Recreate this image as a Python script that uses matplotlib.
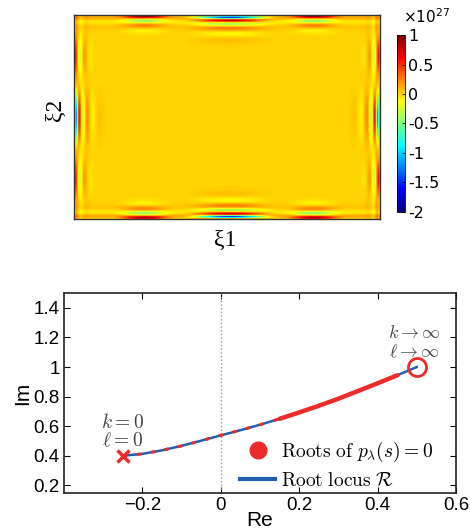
import matplotlib
matplotlib.use('Agg')
import matplotlib.pyplot as plt
from matplotlib.colors import ListedColormap
from matplotlib.lines import Line2D
import numpy as np

plt.rcParams['mathtext.fontset'] = 'cm'

# ---------------------------------------------------------------------------
# Top panel: field near the boundary (values in units of 1e27)
# ---------------------------------------------------------------------------
NX, NY = 306, 204          # image cells (roughly one per pixel)
CB_MIN, CB_MAX = -2, 1
CB_TICKS = [1, 0.5, 0, -0.5, -1, -1.5, -2]

# radial ring profile (distance from edge in cells) for the strong centre lobes
center_ring_d = [0.5, 2.4, 5.4, 8.8, 13.0, 18.5, 25.0]
center_ring_amp = [0.45, -1.8, 0.9, -0.5, 0.28, -0.14, 0.07]
center_ring_w = [0.9, 1.1, 1.6, 1.9, 2.3, 2.7, 3.2]
# radial ring profile for the weaker side lobes
side_ring_d = [1.4, 5.8, 10.0, 15.0]
side_ring_amp = [0.85, -0.45, 0.28, -0.12]
side_ring_w = [1.2, 1.8, 2.3, 2.8]
# faint ripple running along the whole edge
base_ring_d = [3.0, 7.0, 12.0]
base_ring_amp = [0.14, -0.07, 0.04]
base_ring_w = [1.3, 1.8, 2.4]

# lobes along the top / bottom edges (fraction of width)
tb_lobe_pos = [0.23, 0.51, 0.785]
tb_lobe_half = [0.11, 0.17, 0.11]
tb_lobe_amp = [1.0, 1.0, 1.0]
tb_lobe_kind = ['side', 'center', 'side']
# lobes along the left / right edges (fraction of height)
lr_lobe_pos = [0.2, 0.5, 0.8]
lr_lobe_half = [0.13, 0.19, 0.13]
lr_lobe_amp = [0.6, 0.8, 0.6]
lr_lobe_kind = ['side', 'center', 'side']

# ---------------------------------------------------------------------------
# Bottom panel: root locus
# ---------------------------------------------------------------------------
locus_re = [-0.25, -0.2, -0.15, -0.1, -0.05, 0.0, 0.05, 0.1, 0.15, 0.2,
            0.25, 0.3, 0.35, 0.4, 0.45, 0.5]
locus_im = [0.400, 0.413, 0.437, 0.467, 0.502, 0.538, 0.573, 0.610, 0.650,
            0.693, 0.738, 0.786, 0.838, 0.890, 0.944, 1.000]
start_pt = (-0.25, 0.40)
end_pt = (0.5, 1.0)
X_TICKS = [-0.2, 0, 0.2, 0.4, 0.6]
Y_TICKS = [0.2, 0.4, 0.6, 0.8, 1, 1.2, 1.4]

RED = '#ee2b2b'
BLUE = '#1f5fb0'
GREY_TXT = '#444444'


def matlab_jet(n=256):
    x = np.linspace(0, 1, n)
    r = np.clip(1.5 - np.abs(4 * x - 3), 0, 1)
    g = np.clip(1.5 - np.abs(4 * x - 2), 0, 1)
    b = np.clip(1.5 - np.abs(4 * x - 1), 0, 1)
    return ListedColormap(np.column_stack([r, g, b]))


def rings(d, centres, amps, widths):
    out = np.zeros_like(d)
    for c, a, w in zip(centres, amps, widths):
        out += a * np.exp(-0.5 * ((d - c) / w) ** 2)
    return out


def window(s, pos, half):
    t = np.clip((s - pos) / half, -1, 1)
    return np.cos(0.5 * np.pi * t) ** 2


def edge_field(s, d, positions, halves, amps, kinds):
    f = rings(d, base_ring_d, base_ring_amp, base_ring_w)
    for p, h, a, k in zip(positions, halves, amps, kinds):
        if k == 'center':
            r = rings(d, center_ring_d, center_ring_amp, center_ring_w)
        else:
            r = rings(d, side_ring_d, side_ring_amp, side_ring_w)
        f = f + a * window(s, p, h) * r
    return f


def build_field():
    col = np.arange(NX) + 0.5
    row = np.arange(NY) + 0.5
    C, R = np.meshgrid(col, row)
    u = C / NX
    v = R / NY
    z = np.zeros((NY, NX))
    z += edge_field(u, R, tb_lobe_pos, tb_lobe_half, tb_lobe_amp, tb_lobe_kind)
    z += edge_field(u, NY - R, tb_lobe_pos, tb_lobe_half, tb_lobe_amp, tb_lobe_kind)
    z += edge_field(v, C, lr_lobe_pos, lr_lobe_half, lr_lobe_amp, lr_lobe_kind)
    z += edge_field(v, NX - C, lr_lobe_pos, lr_lobe_half, lr_lobe_amp, lr_lobe_kind)
    return z


fig = plt.figure(figsize=(4.70, 5.31), dpi=100)

# --- heat map ---------------------------------------------------------------
ax1 = fig.add_axes([0.157, 0.588, 0.651, 0.384])
im = ax1.imshow(build_field(), cmap=matlab_jet(), vmin=CB_MIN, vmax=CB_MAX,
                aspect='auto', interpolation='bilinear', origin='upper')
ax1.set_xticks([])
ax1.set_yticks([])
for sp in ax1.spines.values():
    sp.set_edgecolor('#333333')
    sp.set_linewidth(1.0)

fig.text(0.117, 0.793, 'ξ2', rotation=90, ha='center', va='center',
         fontsize=17, family='Liberation Serif')
fig.text(0.48, 0.547, 'ξ1', ha='center', va='center',
         fontsize=17, family='Liberation Serif')

cax = fig.add_axes([0.845, 0.601, 0.017, 0.333])
cb = fig.colorbar(im, cax=cax, ticks=CB_TICKS)
cb.ax.set_yticklabels([f'{t:g}' for t in CB_TICKS])
cb.ax.tick_params(labelsize=11.5, length=2, width=0.6, direction='in', pad=2)
cb.outline.set_linewidth(0.6)
fig.text(0.858, 0.951, r'$\times$10$^{27}$', fontsize=11, ha='left', va='bottom',
         family='DejaVu Sans', math_fontfamily='dejavusans')

# --- root locus -------------------------------------------------------------
ax2 = fig.add_axes([0.136, 0.072, 0.834, 0.376])
ax2.axvline(0, color='#999999', lw=1.0, ls=':')
ax2.plot(locus_re, locus_im, color=BLUE, lw=1.8, zorder=3)

re = np.array(locus_re)
im_ = np.array(locus_im)
early = re <= 0.2
late = re >= 0.15
ax2.plot(re[early], im_[early], color=RED, lw=2.2, ls=(0, (1.4, 3.2)), zorder=4)
ax2.plot(re[late][:-1], im_[late][:-1], color=RED, lw=3.2,
         solid_capstyle='round', zorder=4)

ax2.plot(*start_pt, marker='x', color=RED, ms=9, mew=2.5, zorder=5)
ax2.plot(*end_pt, marker='o', mfc='none', mec=RED, ms=13, mew=2.0, zorder=5)

ax2.text(-0.25, 0.628, r'$k=0$', color=GREY_TXT, fontsize=14, ha='center', va='center')
ax2.text(-0.25, 0.505, r'$\ell=0$', color=GREY_TXT, fontsize=14, ha='center', va='center')
ax2.text(0.494, 1.228, r'$k\to\infty$', color=GREY_TXT, fontsize=13, ha='center', va='center')
ax2.text(0.494, 1.100, r'$\ell\to\infty$', color=GREY_TXT, fontsize=13, ha='center', va='center')

ax2.set_xlim(-0.4, 0.6)
ax2.set_ylim(0.15, 1.5)
ax2.set_xticks(X_TICKS)
ax2.set_xticklabels(['\u22120.2', '0', '0.2', '0.4', '0.6'])
ax2.set_yticks(Y_TICKS)
ax2.set_yticklabels([f'{t:g}' for t in Y_TICKS])
ax2.tick_params(direction='in', top=True, right=True, length=4, width=0.8,
                labelsize=13.5, pad=3)
for lab in ax2.get_xticklabels() + ax2.get_yticklabels():
    lab.set_family('Liberation Sans')
for sp in ax2.spines.values():
    sp.set_linewidth(1.2)
    sp.set_edgecolor('#222222')
ax2.set_xlabel('Re', fontsize=15, family='Liberation Sans', labelpad=-2)
ax2.set_ylabel('Im', fontsize=15, family='Liberation Sans', labelpad=1)

handles = [Line2D([], [], ls='none', marker='o', ms=12, color=RED),
           Line2D([], [], color=BLUE, lw=3)]
labels = [r'$\mathrm{Roots\ of\ }p_\lambda(s)=0$', r'$\mathrm{Root\ locus\ }\mathcal{R}$']
ax2.legend(handles, labels, loc='lower left', frameon=False, fontsize=14,
           handlelength=1.8, handletextpad=0.3, labelspacing=0.35,
           borderpad=0, borderaxespad=0, bbox_to_anchor=(0.45, 0.015))

fig.savefig('out.png', dpi=100)
